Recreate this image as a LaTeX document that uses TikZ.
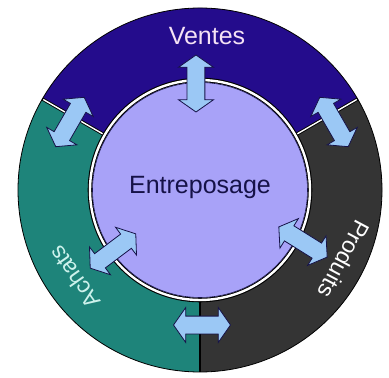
\documentclass[tikz,border=0pt]{standalone}
\usepackage{fontspec}
\setmainfont{Liberation Sans}
\usepackage{xcolor}
\usepackage{tikz}
\usetikzlibrary{shapes.arrows}

\definecolor{ventesblue}{RGB}{36,12,140}
\definecolor{achatsteal}{RGB}{30,132,122}
\definecolor{produitsgray}{RGB}{52,52,52}
\definecolor{entrelav}{RGB}{168,162,248}
\definecolor{flowblue}{RGB}{155,200,245}
\definecolor{edgenavy}{RGB}{22,18,72}

\begin{document}
\begin{tikzpicture}[x=1pt,y=1pt,
	flow/.style={double arrow, draw=edgenavy, fill=flowblue, line width=0.8pt,
		inner xsep=0pt, inner ysep=8.5pt, minimum height=57pt,
		double arrow head extend=8.5pt, double arrow tip angle=110},
	ringtext/.style={font=\fontsize{23}{26}\selectfont}]
	
	\useasboundingbox [fill=white] (-200,-188) rectangle (189,190);
	\coordinate (c) at (0,0);
	
	\fill [ventesblue] (30:110) arc (30:150:110) -- (150:182) arc (150:30:182) -- cycle;
	\fill [achatsteal] (150:110) arc (150:270:110) -- (270:182) arc (270:150:182) -- cycle;
	\fill [produitsgray] (270:110) arc (270:390:110) -- (30:182) arc (30:-90:182) -- cycle;
	
	\draw [line width=0.8pt] (c) circle (182);
	
	\draw [black, line width=3.2pt] (30:110) -- (30:182);
	\draw [white, line width=1.4pt] (30:110) -- (30:181);
	\draw [black, line width=3.2pt] (150:110) -- (150:182);
	\draw [white, line width=1.4pt] (150:110) -- (150:181);
	\draw [black, line width=2pt] (270:110) -- (270:182);
	
	\draw [black, line width=4.6pt] (c) circle (110);
	\draw [white, line width=2.4pt] (c) circle (110);
	\draw [edgenavy, fill=entrelav, line width=0.6pt] (c) circle (107.5);
	
	\node [anchor=base, text=edgenavy, font=\fontsize{25}{28}\selectfont] (entre) at (0,-3) {Entreposage};
	
	\node [anchor=base, text={rgb,255:red,245;green,226;blue,245}, font=\fontsize{25}{28}\selectfont] (ventes) at (7,145) {Ventes};
	
	\node [ringtext, text={rgb,255:red,205;green,242;blue,236}, rotate=125] (achats) at (214.7:153) {Achats};
	
	\node [ringtext, text=white, rotate=-118] (produits) at (-25.6:160) {Produits};
	
	\node [flow, rotate=90] (fV) at (-4,106.5) {};
	
	\node [flow, rotate=60] (fVA) at (-130,68) {};
	
	\node [flow, rotate=120] (fVP) at (134,68) {};
	
	\node [flow] (fAP) at (2,-135) {};
	
	\node [flow, rotate=37] (fA) at (-87,-61) {};
	
	\node [flow, rotate=-32] (fP) at (103,-52) {};
	
\end{tikzpicture}
\end{document}
